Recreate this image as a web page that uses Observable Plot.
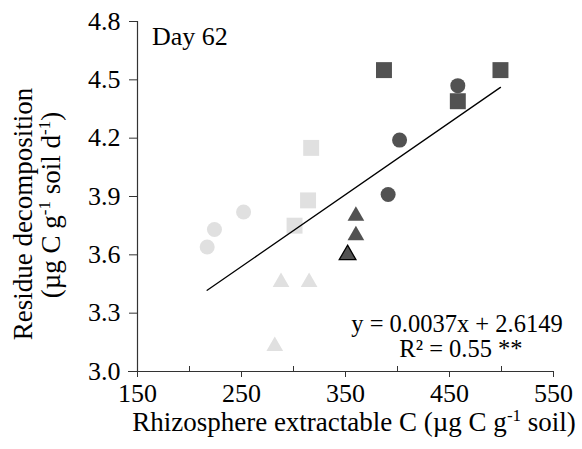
<!DOCTYPE html>
<html><head><meta charset="utf-8">
<script src="https://cdn.jsdelivr.net/npm/d3@7"></script>
<script src="https://cdn.jsdelivr.net/npm/@observablehq/plot@0.6"></script>
<style>body{margin:0;background:#fff}#chart{width:582px;height:449px}</style>
</head><body><div id="chart"></div>
<script>
// Data
const lightCircleX = [217, 224, 252];
const lightCircleY = [3.64, 3.73, 3.82];
const lightSquareX = [301, 314, 317];
const lightSquareY = [3.75, 3.88, 4.15];
const lightTriangleX = [282, 288, 315];
const lightTriangleY = [3.13, 3.46, 3.46];
const darkCircleX = [391, 402, 458];
const darkCircleY = [3.91, 4.19, 4.47];
const darkSquareX = [387, 458, 499];
const darkSquareY = [4.55, 4.39, 4.55];
const darkTriangleX = [360, 360];
const darkTriangleY = [3.70, 3.80];
const outlinedTriangleX = [352];
const outlinedTriangleY = [3.60];

const trendSlope = 0.0037;
const trendIntercept = 2.6149;

const xTicks = [150, 250, 350, 450, 550];
const xMinorTicks = [200, 300, 400, 500];
const yTicks = [3.0, 3.3, 3.6, 3.9, 4.2, 4.5, 4.8];
const xDomain = [150, 550];
const yDomain = [3.0, 4.8];

const panelLabel = "Day 62";
const equationText = "y = 0.0037x + 2.6149";
const r2Text = "R² = 0.55 **";

const rows = (xs, ys) => xs.map((x, i) => ({x, y: ys[i]}));
const allX = [].concat(lightCircleX, lightSquareX, lightTriangleX, darkCircleX, darkSquareX, darkTriangleX, outlinedTriangleX);
const trend = [d3.min(allX), d3.max(allX)].map(x => ({x, y: trendSlope * x + trendIntercept}));

const LIGHT = "#e0e0e0", DARK = "#525252", AXIS = "#333";
const FONT = "Liberation Serif";

const plot = Plot.plot({
  width: 582, height: 449,
  marginLeft: 137, marginRight: 29, marginTop: 21, marginBottom: 78,
  x: {domain: xDomain, label: null},
  y: {domain: yDomain, label: null},
  style: {fontFamily: FONT, fontSize: "26px", color: "#000", background: "#fff", overflow: "visible"},
  marks: [
    Plot.axisY({ticks: yTicks, tickFormat: d3.format(".1f"), tickSize: 8, tickPadding: 9, label: null, stroke: AXIS, fontSize: 26}),
    Plot.axisX({ticks: xTicks, tickFormat: d => String(d), tickSize: 6, tickPadding: 6, label: null, stroke: AXIS, fontSize: 26}),
    Plot.axisX({ticks: xMinorTicks, tickFormat: () => "", tickSize: -5, label: null, stroke: AXIS}),
    Plot.ruleX([xDomain[0]], {stroke: AXIS, strokeWidth: 1.2}),
    Plot.ruleY([yDomain[0]], {stroke: AXIS, strokeWidth: 1.2, insetLeft: -9}),
    Plot.dot(rows(lightCircleX, lightCircleY), {x: "x", y: "y", symbol: "circle", r: 7.5, fill: LIGHT}),
    Plot.dot(rows(darkCircleX, darkCircleY), {x: "x", y: "y", symbol: "circle", r: 7.5, fill: DARK}),
    Plot.dot(rows(lightTriangleX, lightTriangleY), {x: "x", y: "y", symbol: "triangle", r: 6.2, fill: LIGHT}),
    Plot.dot(rows(darkTriangleX, darkTriangleY), {x: "x", y: "y", symbol: "triangle", r: 6.2, fill: DARK}),
    Plot.dot(rows(outlinedTriangleX, outlinedTriangleY), {x: "x", y: "y", symbol: "triangle", r: 6.2, fill: DARK, stroke: "#000", strokeWidth: 1.3}),
    Plot.dot(rows(lightSquareX, lightSquareY), {x: "x", y: "y", symbol: "square", r: 9, fill: LIGHT}),
    Plot.dot(rows(darkSquareX, darkSquareY), {x: "x", y: "y", symbol: "square", r: 9, fill: DARK}),
    Plot.line(trend, {x: "x", y: "y", stroke: "#000", strokeWidth: 1.3})
  ]
});
document.getElementById("chart").appendChild(plot);

const svg = d3.select(plot);
const addText = (x, y, str, opts = {}) => svg.append("text")
  .attr("x", x).attr("y", y)
  .attr("font-family", FONT).attr("font-size", opts.size || 26)
  .attr("text-anchor", opts.anchor || "start").attr("fill", "#000").text(str);

addText(152, 45, panelLabel);
addText(457, 332, equationText, {anchor: "middle", size: 24.5});
addText(461, 357, r2Text, {anchor: "middle", size: 24.5});

function supText(sel, parts) {
  parts.forEach(p => {
    const t = sel.append("tspan").text(p.t);
    if (p.sup) t.attr("font-size", 17).attr("dy", -10);
    else if (p.back) t.attr("dy", 10);
  });
}

// y-axis title (two lines, rotated)
svg.append("text")
  .attr("transform", "translate(23,214) rotate(-90)")
  .attr("text-anchor", "middle").attr("dy", "0.35em")
  .attr("font-family", FONT).attr("font-size", 27).attr("fill", "#000")
  .text("Residue decomposition");
const y2 = svg.append("text")
  .attr("transform", "translate(51,205) rotate(-90)")
  .attr("text-anchor", "middle").attr("dy", "0.35em")
  .attr("font-family", FONT).attr("font-size", 27).attr("fill", "#000");
supText(y2, [{t: "(µg C g"}, {t: "-1", sup: true}, {t: " soil d", back: true}, {t: "-1", sup: true}, {t: ")", back: true}]);

// x-axis title
const xt = svg.append("text")
  .attr("x", 354).attr("y", 431)
  .attr("text-anchor", "middle")
  .attr("font-family", FONT).attr("font-size", 27).attr("fill", "#000");
supText(xt, [{t: "Rhizosphere extractable C (µg C g"}, {t: "-1", sup: true}, {t: " soil)", back: true}]);
</script>
</body></html>
